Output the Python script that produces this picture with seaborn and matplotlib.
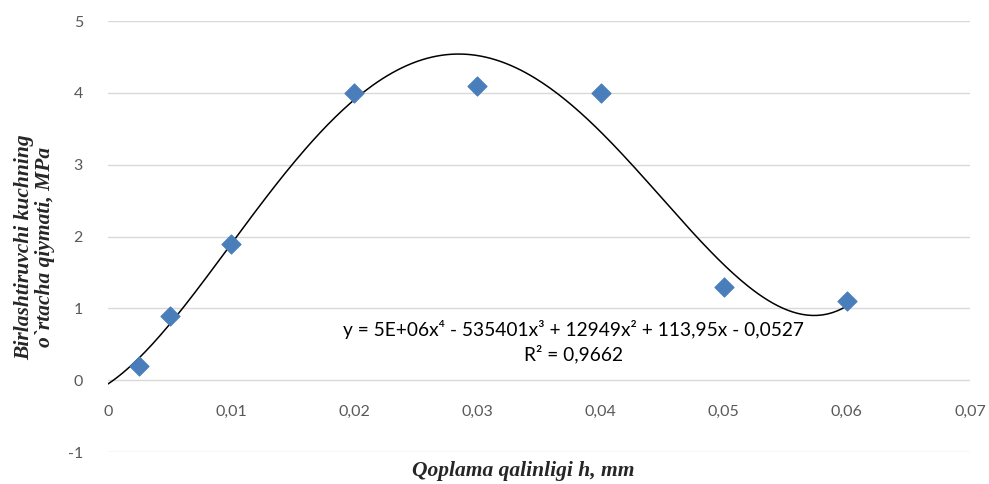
import numpy as np
import pandas as pd
import matplotlib
matplotlib.use("Agg")
import matplotlib.pyplot as plt
import seaborn as sns

# measured points
thickness = [0.0025, 0.005, 0.01, 0.02, 0.03, 0.04, 0.05, 0.06]
strength = [0.2, 0.9, 1.9, 4.0, 4.1, 4.0, 1.3, 1.1]

x_ticks = [0, 0.01, 0.02, 0.03, 0.04, 0.05, 0.06, 0.07]
x_labels = ["0", "0,01", "0,02", "0,03", "0,04", "0,05", "0,06", "0,07"]
y_ticks = [-1, 0, 1, 2, 3, 4, 5]
y_labels = ["-1", "0", "1", "2", "3", "4", "5"]

equation = "y = 5E+06x\u2074 - 535401x\u00b3 + 12949x\u00b2 + 113,95x - 0,0527"
r2_text = "R\u00b2 = 0,9662"

df = pd.DataFrame({"h": thickness, "p": strength})

sns.set_theme(style="white")
plt.rcParams['font.family'] = ['Lato', 'DejaVu Sans']

fig = plt.figure(figsize=(9.89, 4.84), dpi=100)
ax = fig.add_axes([0.1092, 0.0661, 0.8716, 0.8905])

# 4th order polynomial trendline
coef = np.polyfit(df["h"], df["p"], 4)
xs = np.linspace(0, 0.06, 300)
trend = pd.DataFrame({"h": xs, "p": np.polyval(coef, xs)})
sns.lineplot(data=trend, x="h", y="p", ax=ax, color="black", linewidth=1.1)

sns.scatterplot(data=df, x="h", y="p", ax=ax, marker="D", s=95,
                color="#4a7ebb", edgecolor="#4a7ebb", zorder=5)

ax.set_xlim(0, 0.07)
ax.set_ylim(-1, 5)
ax.set_yticks(y_ticks)
ax.set_yticklabels(y_labels)
ax.set_xticks(x_ticks)
ax.set_xticklabels(x_labels)
ax.grid(axis="y", color="#d9d9d9", linewidth=1)
ax.set_axisbelow(True)
for s in ax.spines.values():
    s.set_visible(False)
ax.spines["bottom"].set_position(("data", 0))
ax.tick_params(axis="x", length=0, pad=18, labelsize=11.5, labelcolor="#595959")
ax.tick_params(axis="y", length=0, pad=18, labelsize=11.5, labelcolor="#595959")
ax.set_xlabel("")
ax.set_ylabel("")

ax.text(0.0378, 0.70, equation, fontsize=13.8, ha="center", va="center", color="black")
ax.text(0.0378, 0.36, r2_text, fontsize=13.8, ha="center", va="center", color="black")

fig.text(0.529, 0.006, "Qoplama qalinligi h, mm", family="Liberation Serif",
         fontsize=15.5, fontweight="bold", style="italic", ha="center", va="bottom")
fig.text(0.035, 0.49, "Birlashtiruvchi kuchning\no`rtacha qiymati, MPa",
         family="Liberation Serif", fontsize=15.5, fontweight="bold", style="italic",
         ha="center", va="center", rotation=90, linespacing=1.1)

fig.savefig("out.png", dpi=100)
